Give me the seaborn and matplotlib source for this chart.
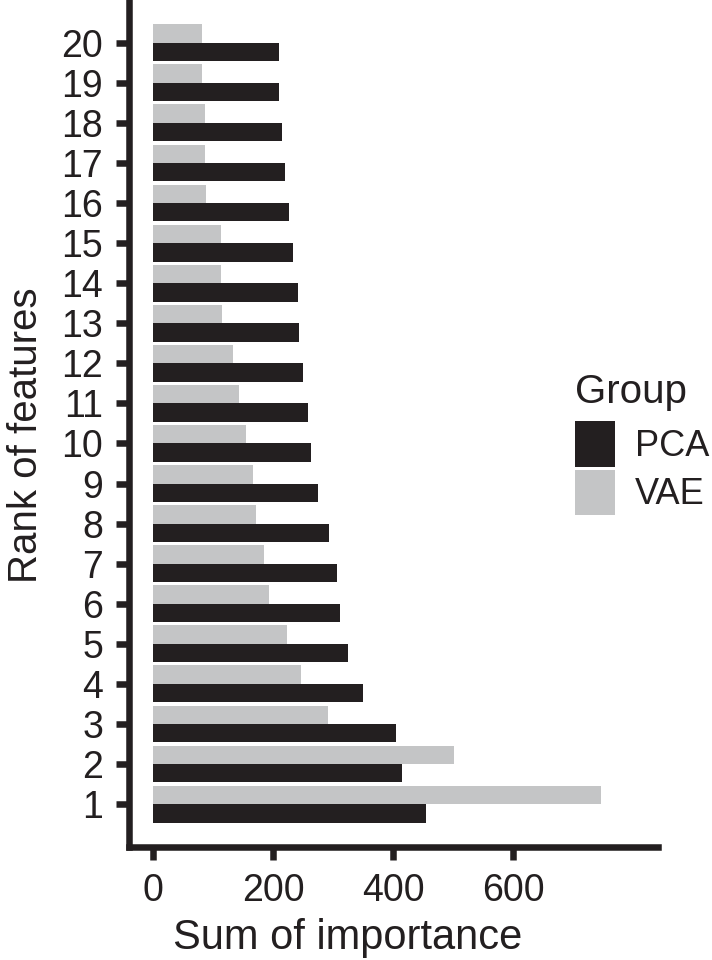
import matplotlib

matplotlib.use("Agg")
import matplotlib.pyplot as plt
import matplotlib.patches as mpatches
import pandas as pd
import seaborn as sns

ranks = [str(r) for r in range(1, 21)]
pca_importance = [455, 415, 405, 350, 325, 312, 307, 293, 275, 263,
                  258, 250, 244, 242, 233, 227, 220, 215, 210, 210]
vae_importance = [745, 501, 292, 247, 223, 193, 185, 172, 167, 155,
                  143, 133, 115, 113, 113, 88, 87, 87, 82, 82]
groups = ["PCA", "VAE"]
x_ticks = [0, 200, 400, 600]

ink = "#231F20"
palette = {"PCA": ink, "VAE": "#C4C5C6"}

frame = pd.DataFrame(
    {
        "rank": ranks * 2,
        "group": ["PCA"] * len(ranks) + ["VAE"] * len(ranks),
        "importance": pca_importance + vae_importance,
    }
)

sns.set_theme(style="ticks")
plt.rcParams["font.family"] = ["Liberation Sans", "DejaVu Sans"]
plt.rcParams["text.color"] = ink
plt.rcParams["axes.labelcolor"] = ink
plt.rcParams["xtick.color"] = ink
plt.rcParams["ytick.color"] = ink

figure = plt.figure(figsize=(7.12, 9.6), dpi=100)
axis = figure.add_axes([0.1808, 0.1177, 0.9237 - 0.1808, 1.0 - 0.1177])

sns.barplot(
    data=frame,
    y="rank",
    x="importance",
    hue="group",
    order=ranks[::-1],
    hue_order=["VAE", "PCA"],
    palette=palette,
    width=0.92,
    saturation=1,
    orient="h",
    linewidth=0,
    legend=False,
    ax=axis,
)

axis.set_xlim(-40, 840)
axis.set_ylim(20.07, -1.066)
axis.set_xticks(x_ticks)
axis.set_xlabel("Sum of importance", fontsize=30)
axis.set_ylabel("Rank of features", fontsize=29)
axis.xaxis.set_label_coords(0.4146, -0.084)
axis.yaxis.set_label_coords(-0.158, 0.4864)
axis.tick_params(axis="both", labelsize=27, width=4.7, length=9.4, pad=9, color=ink)

sns.despine(ax=axis)
for side in ("left", "bottom"):
    axis.spines[side].set_linewidth(4.7)
    axis.spines[side].set_color(ink)
    axis.spines[side].set_capstyle("projecting")

handles = [mpatches.Patch(facecolor=palette[g], edgecolor="none", label=g) for g in groups]
legend = figure.legend(
    handles=handles,
    title="Group",
    loc="upper left",
    bbox_to_anchor=(0.808, 0.611),
    frameon=False,
    fontsize=26,
    title_fontsize=29,
    handlelength=1.1,
    handleheight=1.56,
    labelspacing=0.08,
    handletextpad=0.55,
    alignment="left",
    borderpad=0,
    borderaxespad=0,
)
# a little more room between the legend title and the keys
legend._legend_box.sep = 7

figure.savefig("out.png", dpi=100)
plt.close(figure)
